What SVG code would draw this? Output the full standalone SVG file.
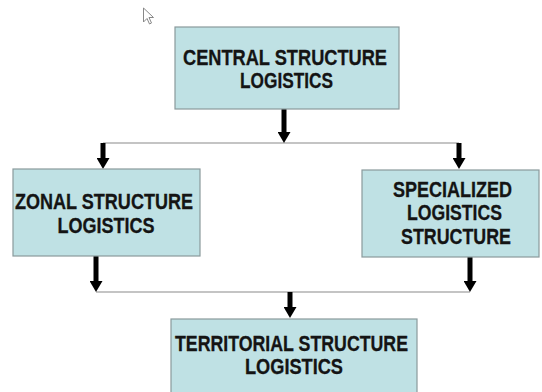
<svg xmlns="http://www.w3.org/2000/svg" width="542" height="392" viewBox="0 0 542 392">
<style>
.box{fill:#bfe1e4;stroke:#8a9a9c;stroke-width:1.2}
.t{font-family:"Liberation Sans",Arial,sans-serif;font-weight:bold;font-size:22px;fill:#141414;stroke:#141414;stroke-width:0.3;text-anchor:middle}
.bar{fill:none;stroke:#c4c4c4;stroke-width:2}
.arr{fill:none;stroke:#000;stroke-width:5;marker-end:url(#ah)}
</style>
<defs>
<marker id="ah" markerUnits="userSpaceOnUse" markerWidth="11" markerHeight="13" refX="0" refY="6.5" orient="auto" viewBox="0 0 11 13">
<path d="M0,0 L11,6.5 L0,13 z" fill="#000"/>
</marker>
</defs>
<rect width="542" height="392" fill="#fff"/>
<path d="M143.5,8 L143.5,22 L147,18.5 L149.5,24 L151.5,23 L149,17.5 L153.5,17.5 z" fill="#fff" stroke="#888" stroke-width="1"/>
<g id="connectors">
<path class="bar" d="M103,143 H459"/>
<path class="bar" d="M96,292 H470"/>
<path class="arr" d="M284,109 V132"/>
<path class="arr" d="M103,143 V158"/>
<path class="arr" d="M459,143 V158"/>
<path class="arr" d="M96,256 V281"/>
<path class="arr" d="M470,257 V281"/>
<path class="arr" d="M290,292 V307"/>
</g>
<g id="central">
<rect class="box" x="175" y="27" width="224" height="82"/>
<text class="t" x="285" y="65" textLength="204" lengthAdjust="spacingAndGlyphs">CENTRAL STRUCTURE</text>
<text class="t" x="286.5" y="88" textLength="93" lengthAdjust="spacingAndGlyphs">LOGISTICS</text>
</g>
<g id="zonal">
<rect class="box" x="13" y="169" width="187" height="87"/>
<text class="t" x="104" y="209" textLength="178" lengthAdjust="spacingAndGlyphs">ZONAL STRUCTURE</text>
<text class="t" x="106" y="233" textLength="97" lengthAdjust="spacingAndGlyphs">LOGISTICS</text>
</g>
<g id="specialized">
<rect class="box" x="362" y="170" width="177" height="87"/>
<text class="t" x="452.5" y="197" textLength="119" lengthAdjust="spacingAndGlyphs">SPECIALIZED</text>
<text class="t" x="454.5" y="220" textLength="95" lengthAdjust="spacingAndGlyphs">LOGISTICS</text>
<text class="t" x="456" y="244" textLength="110" lengthAdjust="spacingAndGlyphs">STRUCTURE</text>
</g>
<g id="territorial">
<rect class="box" x="171" y="319" width="246" height="90"/>
<text class="t" x="291.5" y="351" textLength="233" lengthAdjust="spacingAndGlyphs">TERRITORIAL STRUCTURE</text>
<text class="t" x="294" y="374" textLength="98" lengthAdjust="spacingAndGlyphs">LOGISTICS</text>
</g>
</svg>
